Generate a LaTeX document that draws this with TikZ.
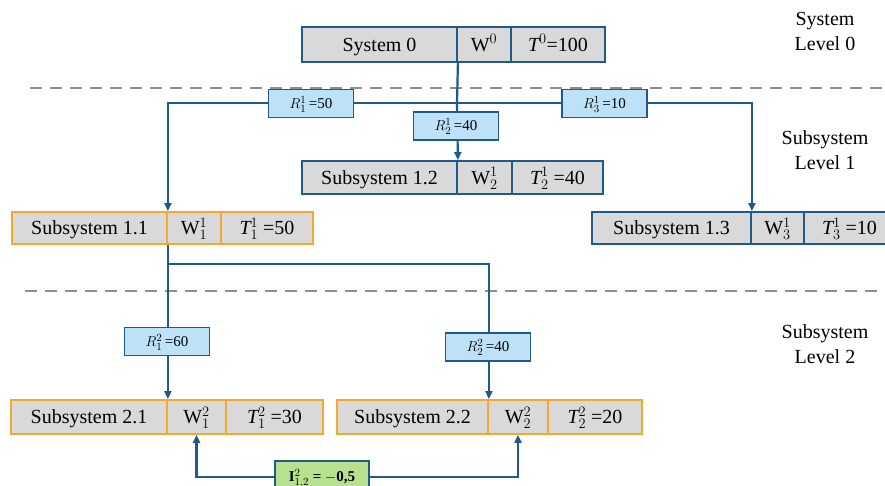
\documentclass[tikz,border=0pt]{standalone}
\usepackage{fontspec}
\setmainfont{Liberation Serif}
\DeclareMathSizes{20}{20}{14}{10}
\DeclareMathSizes{15}{15}{11}{8}
\usetikzlibrary{arrows.meta}
\definecolor{lineblue}{HTML}{1F5A8A}
\definecolor{boxgray}{HTML}{D9D9D9}
\definecolor{orangeb}{HTML}{F5A82E}
\definecolor{rblue}{HTML}{BDE2F8}
\definecolor{gfill}{HTML}{B7E08F}
\definecolor{dashgray}{HTML}{8F8F8F}
\tikzset{
  cell/.style={draw=lineblue, fill=boxgray, line width=1.8pt, inner sep=0pt,
    text height=13.2pt, text depth=0pt,
    font=\fontsize{20}{24}\selectfont},
  ocell/.style={cell, draw=orangeb},
  rbox/.style={draw=lineblue, fill=rblue, line width=1.8pt, inner sep=0pt,
    text height=9.9pt, text depth=0pt,
    minimum width=85pt, minimum height=28pt, font=\fontsize{15}{17}\selectfont},
  gbox/.style={draw=lineblue, fill=gfill, line width=1.8pt, inner sep=0pt,
    text height=9.9pt, text depth=0pt,
    minimum width=94pt, minimum height=32pt, font=\fontsize{15}{17}\selectfont\bfseries},
  conn/.style={draw=lineblue, line width=2.2pt},
  arr/.style={conn, -{Triangle[length=8pt,width=7pt]}},
  dashline/.style={draw=dashgray, line width=2.6pt, dash pattern=on 12pt off 8pt},
  lvl/.style={align=center, font=\fontsize{20}{25}\selectfont, inner sep=0pt}
}
\begin{document}
\begin{tikzpicture}[x=1pt,y=-1pt]
\clip (0,0) rectangle (885,485);
\fill[white] (0,0) rectangle (885,485);

% dashed separators
\coordinate (d1a) at (30,88);  \coordinate (d1b) at (885,88);
\coordinate (d2a) at (25,291); \coordinate (d2b) at (885,291);
\draw[dashline] (d1a) -- (d1b);
\draw[dashline] (d2a) -- (d2b);

% level labels
\node[lvl] (lv0) at (825,31) {System\\Level 0};
\node[lvl] (lv1) at (825,150.5) {Subsystem\\Level 1};
\node[lvl] (lv2) at (825,344.5) {Subsystem\\Level 2};

% System 0
\node[cell, minimum width=155pt, minimum height=35pt] (s0a) at (379.5,44.5) {System 0};
\node[cell, minimum width=54pt, minimum height=35pt] (s0b) at (484,44.5) {W$^{0}$};
\node[cell, minimum width=94pt, minimum height=35pt] (s0c) at (558,44.5) {$\mathit{T}^{0}$=100};

% Subsystem 1.2
\node[cell, minimum width=155pt, minimum height=33pt] (s12a) at (379.5,177.5) {Subsystem 1.2};
\node[cell, minimum width=55pt, minimum height=33pt] (s12b) at (484.5,177.5) {W$^{1}_{2}$};
\node[cell, minimum width=91pt, minimum height=33pt] (s12c) at (557.5,177.5) {$\mathit{T}^{1}_{2}$ =40};

% Subsystem 1.1
\node[ocell, minimum width=155pt, minimum height=32pt] (s11a) at (89.5,228) {Subsystem 1.1};
\node[ocell, minimum width=54pt, minimum height=32pt] (s11b) at (194,228) {W$^{1}_{1}$};
\node[ocell, minimum width=92pt, minimum height=32pt] (s11c) at (267,228) {$\mathit{T}^{1}_{1}$ =50};

% Subsystem 1.3
\node[cell, minimum width=159pt, minimum height=32pt] (s13a) at (671.5,228) {Subsystem 1.3};
\node[cell, minimum width=53pt, minimum height=32pt] (s13b) at (777.5,228) {W$^{1}_{3}$};
\node[cell, minimum width=91pt, minimum height=32pt] (s13c) at (849.5,228) {$\mathit{T}^{1}_{3}$ =10};

% Subsystem 2.1
\node[ocell, minimum width=156pt, minimum height=34pt] (s21a) at (89,417) {Subsystem 2.1};
\node[ocell, minimum width=59pt, minimum height=34pt] (s21b) at (196.5,417) {W$^{2}_{1}$};
\node[ocell, minimum width=97pt, minimum height=34pt] (s21c) at (274.5,417) {$\mathit{T}^{2}_{1}$ =30};

% Subsystem 2.2
\node[ocell, minimum width=151pt, minimum height=34pt] (s22a) at (412.5,417) {Subsystem 2.2};
\node[ocell, minimum width=60pt, minimum height=34pt] (s22b) at (518,417) {W$^{2}_{2}$};
\node[ocell, minimum width=94pt, minimum height=34pt] (s22c) at (595,417) {$\mathit{T}^{2}_{2}$ =20};

% connectors
\coordinate (j1) at (457,103);
\coordinate (j2) at (167,264);
\draw[conn] (s0a.south east) -- (j1);
\draw[arr] (j1) -| (s11a.north east);
\draw[arr] (j1) -| (s13a.north east);
\draw[arr] (j1) -- (s12a.north east);
\draw[arr] (s11a.south east) -- (s21a.north east);
\draw[arr] (j2) -| (s22a.north east);

% ratio boxes
\node[rbox] (r11) at (311,103.5) {$R^{1}_{1}$\,=50};
\node[rbox] (r31) at (604.5,103.5) {$R^{1}_{3}$\,=10};
\node[rbox] (r21) at (456,126) {$R^{1}_{2}$\,=40};
\node[rbox] (r12) at (167,341.5) {$R^{2}_{1}$\,=60};
\node[rbox] (r22) at (488,347) {$R^{2}_{2}$\,=40};

% interaction box
\node[gbox] (g) at (322,477) {$\mathbf{I}^{2}_{1,2}$ = $\mathbf{-}$0,5};
\draw[arr] (g.west) -| (s21b.south);
\draw[arr] (g.east) -| (s22b.south);
\end{tikzpicture}
\end{document}
